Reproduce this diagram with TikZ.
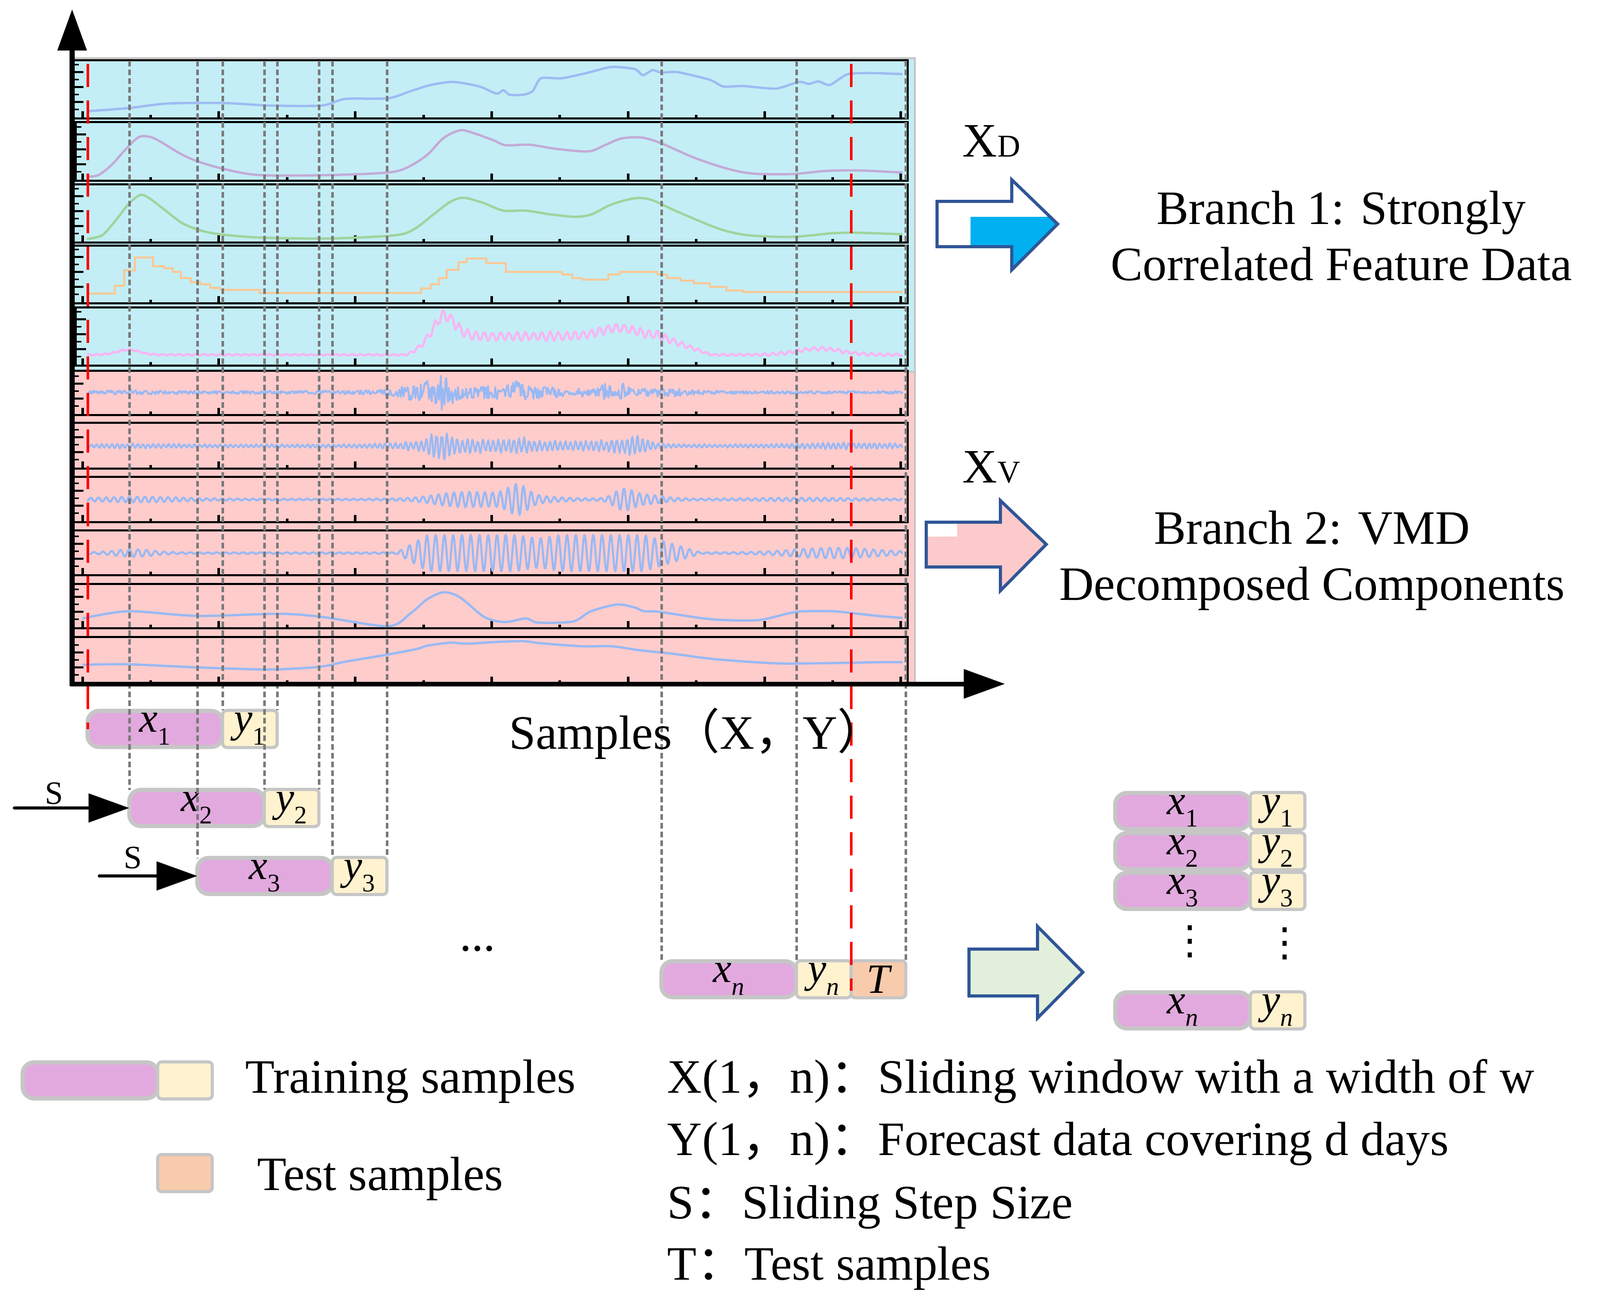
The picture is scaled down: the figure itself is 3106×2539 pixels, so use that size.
\documentclass[tikz,border=0pt]{standalone}
\usepackage{fontspec}
\setmainfont{Liberation Serif}
\newfontfamily\cjk{Noto Sans CJK SC}
\newfontfamily\djv{DejaVu Sans}
\usetikzlibrary{arrows.meta,calc}
\definecolor{boxgray}{HTML}{C6C6C6}
\definecolor{xpink}{HTML}{E2A9DE}
\definecolor{ylight}{HTML}{FFF2CF}
\definecolor{peach}{HTML}{F8CBAD}
\definecolor{cyanbg}{HTML}{C3EEF6}
\definecolor{pinkbg}{HTML}{FFCCCC}
\definecolor{arrblue}{HTML}{2F5597}
\definecolor{cyanfill}{HTML}{00B0F0}
\definecolor{arrpink}{HTML}{FCCACA}
\definecolor{arrgreen}{HTML}{E2EFDA}
\definecolor{dgray}{HTML}{7A7A7A}
\definecolor{framegray}{HTML}{C8C8C8}
\definecolor{sA}{HTML}{9DBBF2}
\definecolor{sB}{HTML}{C3AAD6}
\definecolor{sC}{HTML}{9ED49B}
\definecolor{sD}{HTML}{F9C896}
\definecolor{sE}{HTML}{F7B6F3}
\definecolor{sF}{HTML}{98B9F4}
\newcommand\fsz{\fontsize{26.5}{31}\selectfont}
\newcommand\sbl[2]{{\itshape #1}\raisebox{-0.3em}{\fontsize{14}{14}\selectfont #2}}
\tikzset{
  txt/.style={font=\fsz, inner sep=0pt},
  xb/.style={draw=boxgray, line width=0.08cm, fill=xpink, rounded corners=0.22cm, minimum width=2.62cm, minimum height=0.70cm, inner sep=0pt, outer sep=0pt, font=\fontsize{23}{26}\selectfont},
  yb/.style={draw=boxgray, line width=0.06cm, fill=ylight, rounded corners=0.08cm, minimum width=1.06cm, minimum height=0.72cm, inner sep=0pt, outer sep=0pt, font=\fontsize{23}{26}\selectfont},
  tb/.style={yb, fill=peach},
  gd/.style={draw=dgray, line width=0.05cm, dash pattern=on 0.11cm off 0.06cm},
  rd/.style={draw=red, line width=0.05cm, dash pattern=on 0.45cm off 0.26cm},
  pline/.style={line width=0.04cm},
  tk/.style={line width=0.05cm},
  tkb/.style={line width=0.035cm},
  sg/.style={line width=0.045cm, line join=round},
  axisln/.style={line width=0.09cm, -{Triangle[length=0.8cm,width=0.55cm]}},
  sarr/.style={line width=0.065cm, line cap=round, -{Triangle[length=0.79cm,width=0.55cm]}},
  blk/.style={draw=arrblue, line width=0.06cm, line join=miter}
}
\newcommand\mypanel[4]{%
  \draw[pline] (#1,#2) rectangle (1762,#3);
  \foreach \k in {0,...,12}{%
    \pgfmathsetmacro\mtx{160+132.4*\k}%
    \ifodd\k\relax\def\mth{7}\else\def\mth{14}\fi
    \draw[tk] (\mtx,#3) -- (\mtx,#3-\mth);
  }%
  \foreach \j in {1,...,#4}{%
    \pgfmathsetmacro\mty{#3-3-14.5*\j}%
    \ifodd\j\relax\def\mtl{11}\else\def\mtl{20}\fi
    \draw[tkb] (#1,\mty) -- (#1+\mtl,\mty);
  }%
}
\begin{document}
\begin{tikzpicture}[x=0.01cm,y=-0.01cm,
  declare function={
    gs(\gx,\gc,\gw)=exp(-1*pow(min(abs((\gx-\gc)/\gw),3),2));
    rp(\rx,\ra,\rb)=min(max((\rx-\ra)/(\rb-\ra),0),1);
    baseE(\gx)=689-10*gs(\gx,249,30)-41*gs(\gx,862,30)-36*rp(\gx,790,860)*rp(\gx,1380,1280)-16*gs(\gx,1200,50)-12*gs(\gx,1590,60);
    ampE(\gx)=1.5+8*rp(\gx,790,860)*rp(\gx,1380,1280)+3*gs(\gx,862,40)+2.5*gs(\gx,1600,150);
    envF(\gx)=3+10*gs(\gx,980,200)+18*gs(\gx,858,20)+12*gs(\gx,830,50)+14*gs(\gx,1002,12)+12*gs(\gx,1175,10)+12*gs(\gx,1210,10)+5*gs(\gx,1290,60)+1.5*gs(\gx,270,90);
    envG(\gx)=3.5+2*gs(\gx,260,90)+18*gs(\gx,852,25)+12*gs(\gx,900,120)+8*gs(\gx,1010,30)+6*gs(\gx,1100,80)+12*gs(\gx,1233,30)+8*gs(\gx,1200,70)+4*gs(\gx,1640,110);
    envH(\gx)=1.5+4*gs(\gx,270,110)+11*gs(\gx,960,110)+6*gs(\gx,880,60)+20*gs(\gx,1005,25)+16*gs(\gx,1210,25)+8*gs(\gx,1250,50)+2*gs(\gx,1560,120);
    envI(\gx)=1.5+6*gs(\gx,260,50)+34*rp(\gx,770,830)*rp(\gx,1360,1250)-6*gs(\gx,1045,30)+9*gs(\gx,1620,110);
  }]
\useasboundingbox (0,0) rectangle (3106,2539);
% backgrounds
\fill[cyanbg] (142,115) rectangle (1776,720);
\fill[pinkbg] (142,720) rectangle (1776,1328);
\draw[framegray, line width=0.04cm] (142,113) -- (1776,113) -- (1776,1328);
\draw[framegray, line width=0.04cm] (1762,722) -- (1776,722);
% panels
\mypanel{142}{117}{230}{7}
\mypanel{147}{237}{351}{7}
\mypanel{142}{358}{471}{7}
\mypanel{142}{477}{589}{7}
\mypanel{147}{597}{710}{7}
\mypanel{142}{720}{806}{5}
\mypanel{142}{821}{910}{5}
\mypanel{142}{926}{1014}{5}
\mypanel{142}{1030}{1117}{5}
\mypanel{142}{1134}{1220}{5}
\mypanel{142}{1237}{1328}{5}
% signals
\draw[sg, sA] plot[smooth, tension=0.4] coordinates {(169,216) (249,210) (325,201) (434,200) (523,205) (625,205) (670,192) (753,191) (797,177) (836,165) (880,159) (931,168) (964,182) (977,175) (989,184) (1015,184) (1034,177) (1050,152) (1091,152) (1142,141) (1187,130) (1232,134) (1248,146) (1267,136) (1283,141) (1315,140) (1378,155) (1404,168) (1442,167) (1506,172) (1551,159) (1570,163) (1589,158) (1611,165) (1646,144) (1697,142) (1752,144)};
\draw[sg, sB] plot[smooth, tension=0.5] coordinates {(169,343) (191,340) (217,320) (242,292) (268,267) (287,265) (306,272) (351,299) (383,313) (434,328) (504,340) (638,340) (753,335) (791,325) (829,301) (861,268) (893,253) (918,258) (957,272) (982,282) (1028,281) (1079,289) (1142,294) (1174,282) (1206,269) (1245,267) (1283,278) (1347,306) (1410,327) (1461,337) (1538,338) (1602,332) (1666,331) (1752,335)};
\draw[sg, sC] plot[smooth, tension=0.5] coordinates {(169,464) (198,457) (223,430) (249,397) (271,379) (287,383) (319,407) (357,435) (408,452) (498,461) (638,463) (766,457) (804,445) (842,416) (874,392) (900,384) (938,394) (977,409) (1021,409) (1066,416) (1117,421) (1149,416) (1187,397) (1232,385) (1264,388) (1315,411) (1398,445) (1455,457) (1538,460) (1615,453) (1666,452) (1752,455)};
\draw[sg, sD] plot[const plot] coordinates {(169,570) (223,555) (241,525) (262,500) (297,517) (319,521) (335,528) (351,540) (370,548) (389,552) (408,559) (427,563) (504,569) (817,560) (836,552) (852,540) (867,524) (890,509) (906,502) (944,511) (982,528) (1091,533) (1111,540) (1130,543) (1181,533) (1203,528) (1276,533) (1295,540) (1321,545) (1347,550) (1378,557) (1410,564) (1442,567) (1752,567)};
\draw[sg, sE] plot[domain=169:1752, samples=900] (\x,{baseE(\x)+ampE(\x)*sin(mod(\x,16)*22.5)*(0.8+0.2*rand)});
\draw[sg, sF, line width=0.035cm] plot[domain=169:1752, samples=900] (\x,{762+envF(\x)*rand});
\draw[sg, sF, line width=0.035cm] plot[domain=169:1752, samples=1100] (\x,{866+envG(\x)*sin(mod(\x,10)*36)*(0.75+0.25*rand)});
\draw[sg, sF, line width=0.04cm] plot[domain=169:1752, samples=1100] (\x,{970+envH(\x)*sin(mod(\x,15)*24)});
\draw[sg, sF, line width=0.04cm] plot[domain=169:1752, samples=1100] (\x,{1074+envI(\x)*sin(mod(\x,17)*21.176)});
\draw[sg, sF] plot[smooth, tension=0.5] coordinates {(160,1201) (249,1187) (383,1196) (542,1192) (625,1198) (753,1216) (797,1191) (829,1164) (861,1150) (893,1160) (940,1198) (980,1208) (1021,1201) (1044,1209) (1112,1207) (1147,1187) (1198,1174) (1233,1180) (1250,1187) (1279,1188) (1359,1200) (1405,1204) (1474,1204) (1531,1191) (1560,1187) (1618,1187) (1658,1191) (1704,1196) (1752,1200)};
\draw[sg, sF] plot[smooth, tension=0.5] coordinates {(160,1291) (249,1290) (383,1296) (523,1300) (619,1295) (670,1285) (753,1271) (810,1260) (829,1254) (874,1248) (906,1250) (957,1247) (1015,1245) (1049,1249) (1130,1255) (1187,1255) (1244,1263) (1302,1269) (1388,1280) (1503,1288) (1589,1288) (1704,1286) (1752,1286)};
% sample boxes
\node[xb, anchor=west] (x1) at (170,1415.5) {\sbl{x}{1}};
\node[yb, anchor=west] (y1) at (x1.east) {\sbl{y}{1}};
\node[xb, anchor=west] (x2) at (251,1569) {\sbl{x}{2}};
\node[yb, anchor=west] (y2) at (x2.east) {\sbl{y}{2}};
\node[xb, anchor=west] (x3) at (383,1701) {\sbl{x}{3}};
\node[yb, anchor=west] (y3) at (x3.east) {\sbl{y}{3}};
\node[xb, anchor=west] (xn) at (1284,1901.5) {\sbl{x}{\itshape n}};
\node[yb, anchor=west] (yn) at (xn.east) {\sbl{y}{\itshape n}};
\node[tb, anchor=west] (T) at (yn.east) {\itshape T};
% stacked result
\node[xb, anchor=west] (rx1) at (2165,1575) {\sbl{x}{1}};
\node[yb, anchor=west] (ry1) at (rx1.east) {\sbl{y}{1}};
\node[xb, anchor=west] (rx2) at (2165,1653) {\sbl{x}{2}};
\node[yb, anchor=west] (ry2) at (rx2.east) {\sbl{y}{2}};
\node[xb, anchor=west] (rx3) at (2165,1730) {\sbl{x}{3}};
\node[yb, anchor=west] (ry3) at (rx3.east) {\sbl{y}{3}};
\node[xb, anchor=west] (rxn) at (2165,1962) {\sbl{x}{\itshape n}};
\node[yb, anchor=west] (ryn) at (rxn.east) {\sbl{y}{\itshape n}};
\node[inner sep=0pt, font=\djv\fontsize{22}{24}\selectfont] (vd1) at (2310,1828) {⋮};
\node[inner sep=0pt, font=\djv\fontsize{22}{24}\selectfont] (vd2) at (2494,1832) {⋮};
% legend
\node[xb, anchor=west] (lx) at (44,2098) {};
\node[yb, anchor=west] (ly) at (lx.east) {};
\node[tb, anchor=west] (lt) at (306,2278) {};
\node[txt, anchor=base west] (ltr) at (476,2122) {Training samples};
\node[txt, anchor=base west] (lte) at (499,2311) {Test samples};
% guide lines
\coordinate (top) at (0,118);
\coordinate (topr) at (0,124);
\foreach \a in {x2.north west, x3.north west, y1.north west, y2.north west, y1.north east, y2.north east, y3.north west, y3.north east, xn.north west, yn.north west, T.north east}
  \draw[gd] (\a |- top) -- (\a);
\draw[rd] (x1.west |- topr) -- (x1.west);
\draw[rd] (T.west |- topr) -- ($(T.west)+(0,22)$);
% axes
\coordinate (ytip) at (140,18);
\coordinate (xtip) at (1951,1328);
\draw[axisln] (140,1332) -- (ytip);
\draw[axisln] (136,1328) -- (xtip);
% step arrows
\coordinate (s1) at (28,1569);
\coordinate (s2) at (193,1701);
\draw[sarr] (s1) -- (x2.west);
\draw[sarr] (s2) -- (x3.west);
\node[inner sep=0pt, anchor=base, font=\fontsize{18}{20}\selectfont] (sl1) at (105,1561) {S};
\node[inner sep=0pt, anchor=base, font=\fontsize{18}{20}\selectfont] (sl2) at (258,1686) {S};
% block arrows
\fill[white] (1819,391) -- (1964,391) -- (1964,349) -- (2053,435) -- (1964,524) -- (1964,479) -- (1819,479) -- cycle;
\begin{scope}
\clip (1884,421) rectangle (2100,540);
\fill[cyanfill] (1819,391) -- (1964,391) -- (1964,349) -- (2053,435) -- (1964,524) -- (1964,479) -- (1819,479) -- cycle;
\end{scope}
\draw[blk] (1819,391) -- (1964,391) -- (1964,349) -- (2053,435) -- (1964,524) -- (1964,479) -- (1819,479) -- cycle;
\fill[arrpink] (1798,1014) -- (1942,1014) -- (1942,972) -- (2031,1057) -- (1942,1147) -- (1942,1101) -- (1798,1101) -- cycle;
\fill[white] (1798,1014) rectangle (1858,1042);
\draw[blk] (1798,1014) -- (1942,1014) -- (1942,972) -- (2031,1057) -- (1942,1147) -- (1942,1101) -- (1798,1101) -- cycle;
\filldraw[blk, fill=arrgreen] (1881,1843) -- (2014,1843) -- (2014,1799) -- (2102,1888) -- (2014,1977) -- (2014,1934) -- (1881,1934) -- cycle;
% texts
\node[inner sep=0pt, anchor=base west] (xd) at (1868,304) {\fsz X\fontsize{17.5}{20}\selectfont D};
\node[inner sep=0pt, anchor=base west] (xv) at (1868,937) {\fsz X\fontsize{17.5}{20}\selectfont V};
\node[txt, anchor=base] (b1a) at (2604,435) {Branch 1: Strongly};
\node[txt, anchor=base] (b1b) at (2604,544) {Correlated Feature Data};
\node[txt, anchor=base] (b2a) at (2547,1056) {Branch 2: VMD};
\node[txt, anchor=base] (b2b) at (2547,1165) {Decomposed Components};
\node[txt, anchor=base west] (smp) at (988,1454) {Samples{\cjk （}X{\cjk ，}Y{\cjk ）}};
\node[txt, anchor=base] (ell) at (927,1846) {...};
\node[txt, anchor=base west] (d1) at (1295,2122) {X(1{\cjk ，}n){\cjk ：}Sliding window with a width of w};
\node[txt, anchor=base west] (d2) at (1295,2243) {Y(1{\cjk ，}n){\cjk ：}Forecast data covering d days};
\node[txt, anchor=base west] (d3) at (1295,2366) {S{\cjk ：}Sliding Step Size};
\node[txt, anchor=base west] (d4) at (1295,2485) {T{\cjk ：}Test samples};
\end{tikzpicture}
\end{document}
